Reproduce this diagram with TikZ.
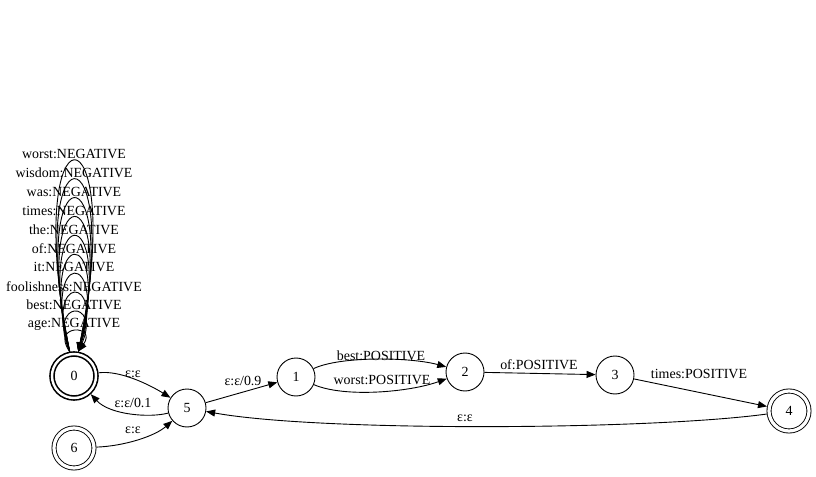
\documentclass[tikz,border=0pt]{standalone}
\usepackage{fontspec}
\setmainfont{Liberation Serif}
\usetikzlibrary{arrows.meta}
\begin{document}
\begin{tikzpicture}[x=1bp,y=-1bp,
  every node/.style={font=\fontsize{14}{16}\selectfont},
  st/.style={draw,circle,minimum size=38bp,inner sep=0pt,line width=0.9bp},
  acc/.style={draw,circle,minimum size=40bp,inner sep=0pt,line width=0.9bp,double,double distance=3.2bp,outer sep=2.5bp},
  init/.style={draw,circle,minimum size=44bp,inner sep=0pt,line width=1.6bp,double,double distance=2.4bp,outer sep=2.8bp},
  lab/.style={inner sep=0pt},
  edge/.style={line width=0.9bp,-{Triangle[length=9bp,width=7bp]}},
]
\useasboundingbox (0,0) rectangle (816,477);
% states
\node[init] (n0) at (74,376) {0};
\node[acc]  (n6) at (74,448) {6};
\node[st]   (n5) at (187,408) {5};
\node[st]   (n1) at (296,377) {1};
\node[st]   (n2) at (465,372) {2};
\node[st]   (n3) at (615,375) {3};
\node[acc]  (n4) at (789,411) {4};
% self loops on 0
\foreach \i/\w/\c/\txt in {
  0/24/324/age,
  1/27.7/298.8/best,
  2/31.1/273.6/foolishness,
  3/34.6/248.4/it,
  4/38/223.2/of,
  5/41.5/198/the,
  6/45/172.8/times,
  7/48.4/147.6/was,
  8/51.9/122.4/wisdom,
  9/55.4/97.2/worst}{
  \draw[edge] (n0.100) .. controls ({74-\w},\c) and ({74+\w},\c) .. (n0.80);
  \node[lab] (l\i) at (74,{324-18.9*\i}) {\txt:NEGATIVE};
}
% edges
\draw[edge] (n0) .. controls (120,370) and (150,385) .. (n5);
\node[lab] (e05) at (133,374) {ε:ε};
\draw[edge] (n5) .. controls (150,418) and (110,415) .. (n0);
\node[lab] (e50) at (133,403) {ε:ε/0.1};
\draw[edge] (n6) .. controls (125,446) and (155,436) .. (n5);
\node[lab] (e65) at (133,430) {ε:ε};
\draw[edge] (n5) -- (n1);
\node[lab] (e51) at (243,381) {ε:ε/0.9};
\draw[edge] (n1) .. controls (340,356) and (410,357) .. (n2);
\node[lab] (e12a) at (381,356) {best:POSITIVE};
\draw[edge] (n1) .. controls (345,398) and (410,392) .. (n2);
\node[lab] (e12b) at (382,380) {worst:POSITIVE};
\draw[edge] (n2) -- (n3);
\node[lab] (e23) at (539,365) {of:POSITIVE};
\draw[edge] (n3) -- (n4);
\node[lab] (e34) at (699,374) {times:POSITIVE};
\draw[edge] (n4) .. controls (650,430) and (320,432) .. (n5);
\node[lab] (e45) at (465,418) {ε:ε};
\end{tikzpicture}
\end{document}
